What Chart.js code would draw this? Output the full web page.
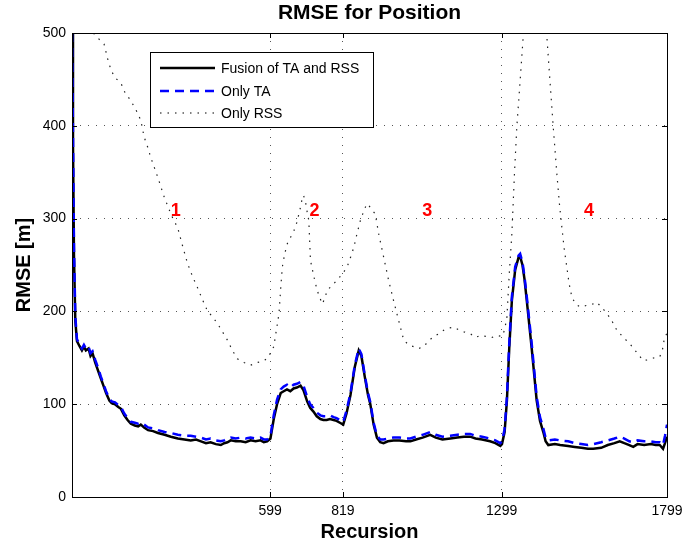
<!DOCTYPE html>
<html>
<head>
<meta charset="utf-8">
<script src="https://cdn.jsdelivr.net/npm/chart.js@4.4.1/dist/chart.umd.min.js"></script>
<style>
  body { margin: 0; background: #fff; }
  #wrap { width: 684px; height: 546px; }
</style>
</head>
<body>
<div id="wrap"><canvas id="rmse" width="684" height="546"></canvas></div>
<script>
// recursion steps for the two TA-based curves
const recursion = [0, 3, 6, 10, 15, 22, 30, 36, 42, 50, 56, 62, 70, 80, 87, 95, 103, 113, 120, 130, 140, 148, 158, 168, 178, 190, 200, 208, 218, 230, 245, 260, 280, 299, 320, 340, 359, 375, 390, 405, 419, 435, 450, 460, 470, 480, 495, 510, 525, 540, 555, 570, 580, 590, 600, 610, 620, 631, 640, 650, 660, 670, 680, 691, 700, 711, 720, 730, 740, 751, 760, 770, 780, 791, 800, 810, 820, 830, 842, 855, 867, 875, 885, 895, 902, 912, 922, 932, 942, 955, 972, 990, 1010, 1023, 1040, 1060, 1083, 1100, 1120, 1144, 1165, 1185, 1204, 1220, 1240, 1264, 1280, 1295, 1300, 1308, 1315, 1322, 1330, 1340, 1350, 1355, 1362, 1368, 1375, 1390, 1405, 1415, 1425, 1432, 1440, 1460, 1476, 1500, 1520, 1540, 1560, 1576, 1600, 1620, 1640, 1656, 1670, 1685, 1697, 1710, 1730, 1750, 1765, 1777, 1787, 1793, 1799];

const fusion = [500, 380, 260, 190, 168, 163, 158, 162, 158, 160, 152, 155, 145, 135, 128, 120, 112, 104, 101, 100, 97, 95, 88, 83, 79, 77, 76, 78, 75, 72, 71, 69, 67, 65, 63, 62, 61, 62, 60, 58, 59, 57, 56, 58, 59, 61, 60, 60, 59, 61, 60, 61, 59, 60, 63, 84, 100, 112, 114, 116, 114, 117, 118, 120, 115, 103, 96, 92, 87, 84, 83, 83, 84, 83, 82, 80, 78, 90, 110, 140, 158, 152, 130, 110, 100, 78, 64, 59, 58, 60, 61, 61, 60, 60, 62, 64, 67, 64, 62, 63, 64, 65, 65, 63, 62, 60, 58, 55, 57, 70, 104, 160, 212, 245, 258, 259, 250, 235, 212, 160, 104, 82, 70, 60, 56, 57, 56, 55, 54, 53, 52, 52, 53, 56, 58, 60, 58, 56, 54, 57, 56, 57, 56, 56, 52, 58, 65];

const onlyTA = [500, 390, 270, 195, 170, 165, 160, 164, 160, 162, 155, 157, 148, 138, 130, 122, 114, 106, 103, 102, 99, 97, 90, 85, 81, 80, 79, 80, 78, 75, 74, 72, 70, 69, 67, 66, 66, 65, 64, 62, 63, 61, 60, 61, 63, 64, 63, 64, 63, 64, 63, 64, 62, 62, 66, 88, 105, 116, 119, 121, 118, 121, 122, 124, 120, 108, 100, 96, 91, 88, 87, 87, 88, 86, 85, 83, 81, 93, 112, 142, 160, 154, 132, 112, 102, 80, 66, 62, 62, 63, 64, 64, 63, 63, 65, 67, 70, 67, 65, 66, 67, 68, 68, 66, 65, 63, 61, 58, 60, 73, 108, 165, 216, 248, 260, 262, 253, 238, 216, 165, 108, 86, 74, 64, 61, 62, 61, 60, 58, 57, 56, 57, 59, 61, 63, 65, 63, 60, 59, 61, 60, 60, 59, 59, 56, 66, 78];

// Only RSS has its own sampling
const rssRecursion = [0, 30, 60, 67, 80, 97, 108, 118, 130, 148, 160, 178, 195, 208, 218, 228, 238, 248, 259, 269, 279, 289, 299, 309, 319, 334, 349, 364, 379, 394, 409, 425, 440, 455, 470, 485, 500, 520, 540, 560, 575, 590, 600, 610, 618, 626, 631, 636, 643, 651, 661, 671, 680, 686, 692, 696, 700, 706, 712, 716, 721, 731, 741, 750, 757, 765, 772, 787, 802, 817, 832, 842, 852, 862, 872, 884, 892, 900, 910, 917, 927, 942, 957, 972, 987, 1003, 1018, 1033, 1048, 1063, 1078, 1093, 1110, 1125, 1140, 1154, 1170, 1185, 1204, 1220, 1235, 1254, 1270, 1285, 1300, 1308, 1315, 1322, 1330, 1338, 1345, 1355, 1365, 1380, 1400, 1420, 1435, 1445, 1455, 1466, 1474, 1481, 1488, 1496, 1503, 1511, 1522, 1536, 1550, 1565, 1575, 1586, 1600, 1617, 1632, 1647, 1667, 1687, 1707, 1727, 1745, 1760, 1777, 1785, 1792, 1799];

const onlyRSS = [560, 540, 505, 499, 494, 488, 472, 460, 452, 446, 436, 427, 416, 406, 388, 378, 366, 356, 345, 334, 323, 314, 305, 297, 291, 271, 252, 238, 226, 213, 201, 194, 187, 178, 169, 158, 149, 145, 142, 145, 146, 149, 155, 162, 180, 198, 225, 248, 262, 273, 280, 287, 296, 305, 314, 322, 325, 318, 305, 298, 255, 238, 223, 214, 208, 215, 223, 228, 234, 240, 248, 258, 269, 284, 298, 310, 316, 313, 308, 305, 284, 259, 234, 212, 191, 169, 164, 162, 160, 162, 168, 173, 176, 180, 182, 183, 180, 178, 176, 172, 174, 173, 172, 174, 173, 180, 194, 240, 284, 350, 399, 449, 500, 560, 580, 560, 500, 449, 399, 348, 315, 291, 268, 248, 230, 216, 208, 205, 206, 207, 208, 210, 205, 198, 190, 180, 172, 165, 156, 147, 148, 150, 151, 158, 173, 176];

const xTicks = [599, 819, 1299, 1799];
const yTicks = [0, 100, 200, 300, 400, 500];
const seriesNames = ['Fusion of TA and RSS', 'Only TA', 'Only RSS'];
const regionLabels = ['1', '2', '3', '4'];
const regionX = [314, 733, 1074, 1563];
const regionY = 308;

const FONT = '"Liberation Sans", Arial, Helvetica, sans-serif';

function pts(xs, ys) {
    return xs.map((x, i) => ({ x: x, y: ys[i] }));
}

// box, inner ticks, legend and the red region numbers
const extras = {
    id: 'extras',
    afterDatasetsDraw(chart) {
        const ctx = chart.ctx;
        const a = chart.chartArea;
        const xs = chart.scales.x, ys = chart.scales.y;
        ctx.save();
        ctx.strokeStyle = '#000';
        ctx.lineWidth = 1;
        ctx.setLineDash([]);
        ctx.strokeRect(a.left + 0.5, a.top + 0.5, a.right - a.left, a.bottom - a.top);
        ctx.beginPath();
        yTicks.forEach(v => {
            const y = Math.round(ys.getPixelForValue(v)) + 0.5;
            ctx.moveTo(a.left, y); ctx.lineTo(a.left + 5, y);
            ctx.moveTo(a.right, y); ctx.lineTo(a.right - 5, y);
        });
        xTicks.forEach(v => {
            const x = Math.round(xs.getPixelForValue(v)) + 0.5;
            ctx.moveTo(x, a.bottom); ctx.lineTo(x, a.bottom - 5);
            ctx.moveTo(x, a.top); ctx.lineTo(x, a.top + 5);
        });
        ctx.stroke();

        // region numbers
        ctx.fillStyle = '#ff0000';
        ctx.font = 'bold 18px ' + FONT;
        ctx.textAlign = 'center';
        ctx.textBaseline = 'middle';
        regionLabels.forEach((t, i) => {
            ctx.fillText(t, xs.getPixelForValue(regionX[i]), ys.getPixelForValue(regionY));
        });

        // legend
        const lx = 150.5, ly = 52.5, lw = 223, lh = 75;
        ctx.fillStyle = '#fff';
        ctx.fillRect(lx, ly, lw, lh);
        ctx.strokeStyle = '#000';
        ctx.lineWidth = 1;
        ctx.strokeRect(lx, ly, lw, lh);
        const rows = [68, 91, 113];
        const styles = [
            { c: '#000', w: 2.5, d: [] },
            { c: '#0000ff', w: 2.5, d: [9, 6] },
            { c: '#000', w: 1.2, d: [1.5, 6] }
        ];
        ctx.font = '14px ' + FONT;
        ctx.textAlign = 'left';
        rows.forEach((y, i) => {
            ctx.beginPath();
            ctx.strokeStyle = styles[i].c;
            ctx.lineWidth = styles[i].w;
            ctx.setLineDash(styles[i].d);
            ctx.moveTo(160, y); ctx.lineTo(215, y);
            ctx.stroke();
            ctx.fillStyle = '#000';
            ctx.fillText(seriesNames[i], 221, y + 1);
        });
        ctx.restore();
    }
};

const ctx = document.getElementById('rmse').getContext('2d');
new Chart(ctx, {
    type: 'line',
    data: {
        datasets: [{
            label: seriesNames[1],
            data: pts(recursion, onlyTA),
            borderColor: '#0000ff',
            borderWidth: 2.5,
            borderDash: [9, 6],
            pointRadius: 0,
            order: 1
        }, {
            label: seriesNames[0],
            data: pts(recursion, fusion),
            borderColor: '#000',
            borderWidth: 2.5,
            pointRadius: 0,
            order: 2
        }, {
            label: seriesNames[2],
            data: pts(rssRecursion, onlyRSS),
            borderColor: '#222',
            borderWidth: 1.2,
            borderDash: [1.5, 6],
            pointRadius: 0,
            order: 0
        }]
    },
    options: {
        responsive: false,
        animation: false,
        layout: { padding: { left: 0, right: 17, top: 0, bottom: 0 } },
        plugins: {
            legend: { display: false },
            tooltip: { enabled: false },
            title: {
                display: true,
                fullSize: false,
                text: 'RMSE for Position',
                color: '#000',
                font: { family: FONT, size: 21, weight: 'bold' },
                padding: { top: 1, bottom: 6.8 }
            }
        },
        scales: {
            x: {
                type: 'linear',
                min: 0,
                max: 1799,
                afterBuildTicks: s => { s.ticks = xTicks.map(v => ({ value: v })); },
                afterFit: s => { s.height = 49; s.paddingLeft = 0; s.paddingRight = 0; },
                grid: { color: '#555', lineWidth: 1, drawTicks: false },
                border: { display: false, dash: [1, 7] },
                ticks: {
                    color: '#000',
                    padding: 6,
                    maxRotation: 0,
                    autoSkip: false,
                    font: { family: FONT, size: 14 },
                    callback: v => String(v)
                },
                title: {
                    display: true,
                    text: 'Recursion',
                    color: '#000',
                    font: { family: FONT, size: 20, weight: 'bold' },
                    padding: { top: 0, bottom: 2 }
                }
            },
            y: {
                min: 0,
                max: 500,
                afterBuildTicks: s => { s.ticks = yTicks.map(v => ({ value: v })); },
                afterFit: s => { s.width = 72; },
                grid: { color: '#555', lineWidth: 1, drawTicks: false },
                border: { display: false, dash: [1, 7] },
                ticks: {
                    color: '#000',
                    padding: 6,
                    font: { family: FONT, size: 14 }
                },
                title: {
                    display: true,
                    text: 'RMSE [m]',
                    color: '#000',
                    font: { family: FONT, size: 20, weight: 'bold' },
                    padding: { top: 12, bottom: 0 }
                }
            }
        }
    },
    plugins: [extras]
});
</script>
</body>
</html>
